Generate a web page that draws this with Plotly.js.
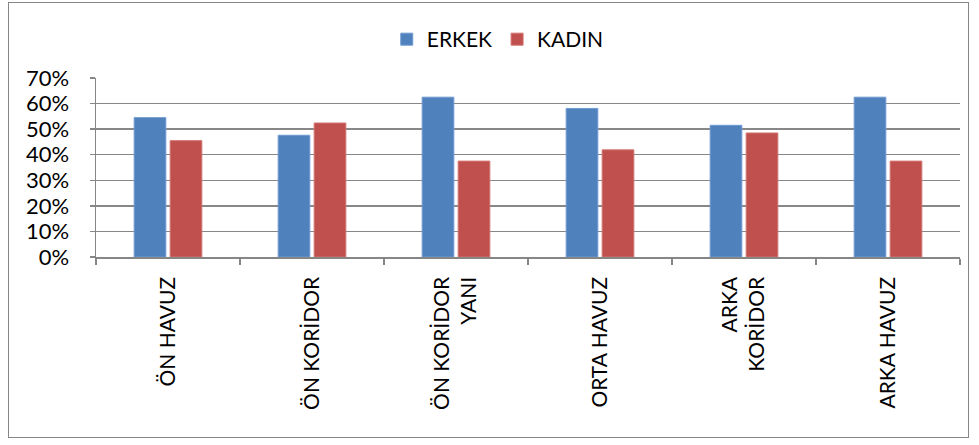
<!DOCTYPE html>
<html><head><meta charset="utf-8">
<script src="https://cdn.plot.ly/plotly-3.0.1.min.js"></script>
<style>
html,body{margin:0;padding:0;background:#fff;}
#wrap{position:relative;width:979px;height:445px;}
#chart{width:979px;height:445px;}
#frame{position:absolute;left:8px;top:2px;width:961px;height:436px;border:1.5px solid #868686;pointer-events:none;box-sizing:border-box;}
</style></head>
<body>
<div id="wrap"><div id="chart"></div><div id="frame"></div></div>
<script>
const categories = ["ÖN HAVUZ", "ÖN KORİDOR", "ÖN KORİDOR<br>YANI", "ORTA HAVUZ", "ARKA<br>KORİDOR", "ARKA HAVUZ"];
const erkek = [0.545, 0.476, 0.625, 0.581, 0.515, 0.625];
const kadin = [0.455, 0.524, 0.375, 0.419, 0.485, 0.375];
const seriesNames = ["ERKEK", "KADIN"];
const yTickVals = [0, 0.1, 0.2, 0.3, 0.4, 0.5, 0.6, 0.7];
const yTickText = ["0%", "10%", "20%", "30%", "40%", "50%", "60%", "70%"];

const font = "Lato, 'Open Sans', sans-serif";
const data = [
  {type:"bar", name:seriesNames[0], x:categories, y:erkek,
   marker:{color:"#4F81BD", line:{color:"#6f9ad0", width:1}}},
  {type:"bar", name:seriesNames[1], x:categories, y:kadin,
   marker:{color:"#C0504D", line:{color:"#d27470", width:1}}}
];
const layout = {
  width:979, height:445,
  margin:{l:96, r:19, t:78, b:188},
  paper_bgcolor:"#fff", plot_bgcolor:"#fff",
  barmode:"group", bargap:0.5, bargroupgap:0.12,
  font:{family:font, color:"#000"},
  showlegend:true,
  legend:{orientation:"h", x:0.465, xanchor:"center", y:1.215, yanchor:"middle",
    font:{size:21, family:font}, itemwidth:30, tracegroupgap:0},
  xaxis:{type:"category", tickangle:-90, tickfont:{size:21, family:font},
    showline:true, linecolor:"#868686", linewidth:1.5,
    ticks:"outside", tickson:"boundaries", ticklen:6, tickcolor:"#868686", tickwidth:1.5,
    ticklabelstandoff:10, showgrid:false},
  yaxis:{range:[0,0.7], tickvals:yTickVals, ticktext:yTickText,
    tickfont:{size:22, family:font}, ticklabelstandoff:16,
    showgrid:true, gridcolor:"#878787", gridwidth:1.5,
    showline:true, linecolor:"#868686", linewidth:1.5,
    ticks:"outside", ticklen:5, tickcolor:"#868686", tickwidth:1.5,
    zeroline:false}
};
Plotly.newPlot("chart", data, layout, {staticPlot:true, displayModeBar:false});
</script>
</body></html>
